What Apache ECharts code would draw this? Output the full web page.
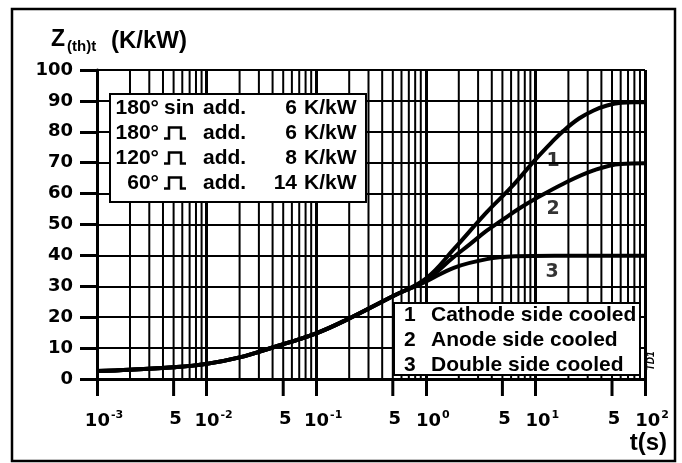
<!DOCTYPE html>
<html>
<head>
<meta charset="utf-8">
<script src="https://cdn.jsdelivr.net/npm/echarts@6/dist/echarts.min.js"></script>
<style>
  html, body { margin: 0; padding: 0; background: #fff; }
  #chart { width: 682px; height: 463px; }
</style>
</head>
<body>
<div id="chart"></div>
<script>
// transient thermal impedance Z(th)t in K/kW against time t in s
const commonT = [0.001, 0.002, 0.005, 0.01, 0.02, 0.04, 0.1, 0.2, 0.5];
const commonZ = [2.6, 3.0, 3.8, 4.9, 7.0, 10.2, 14.8, 19.6, 26.8];

const cathodeT = [1, 1.8, 3.6, 6, 10, 14, 18, 25, 34, 45, 60, 80, 100];
const cathodeZ = [32.5, 42, 54, 62, 71, 76.5, 80.3, 84.3, 86.9, 88.5, 89.4, 89.6, 89.6];

const anodeT = [1, 1.8, 2.5, 3.6, 5, 7, 10, 18, 34, 60, 100];
const anodeZ = [32, 39.5, 43.5, 48, 51.5, 55, 58.3, 63.2, 67.5, 69.6, 69.8];

const doubleT = [1, 1.8, 3.6, 6.5, 15, 100];
const doubleZ = [31.5, 36, 38.8, 39.7, 39.9, 39.9];

// curve numbers placed next to the lines
const curveLabelT = [14.5, 14.5, 14.2];
const curveLabelZ = [70.6, 54.9, 34.7];
const curveLabels = ['1', '2', '3'];

// log grid: sub-divisions of each decade and the labelled "5" ticks
const decades = [0.001, 0.01, 0.1, 1, 10];
const minorSteps = [2, 3, 4, 5, 6, 7, 8, 9];
const fiveTicks = [0.005, 0.05, 0.5, 5, 50];

// additions table and legend
const boxAngles = ['180°', '180°', '120°', '60°'];
const boxShapes = ['sin', 'pulse', 'pulse', 'pulse'];
const boxAdds = ['6', '6', '8', '14'];
const coolingNames = ['Cathode side cooled', 'Anode side cooled', 'Double side cooled'];

const numFont = 'DejaVu Sans';
const textFont = 'Liberation Sans';

function pairs(ts, zs) {
  return ts.map((t, i) => [t, zs[i]]);
}

const minorLines = [];
decades.forEach(d => {
  minorSteps.forEach(m => minorLines.push([d * m, 0]));
});

const graphic = [];
// outer frame
graphic.push({
  type: 'rect', shape: { x: 12, y: 9, width: 663, height: 452 },
  style: { fill: 'none', stroke: '#000', lineWidth: 2.5 }, z: 100
});
// axis titles
graphic.push({ type: 'text', x: 51, y: 40, style: { text: 'Z', font: 'bold 23px ' + textFont, fill: '#000', verticalAlign: 'middle' } });
graphic.push({ type: 'text', x: 67, y: 47, style: { text: '(th)t', font: 'bold 15px ' + textFont, fill: '#000', verticalAlign: 'middle' } });
graphic.push({ type: 'text', x: 111, y: 41, style: { text: '(K/kW)', font: 'bold 24px ' + textFont, fill: '#000', verticalAlign: 'middle' } });
graphic.push({ type: 'text', x: 667, y: 443, style: { text: 't(s)', font: 'bold 24px ' + textFont, fill: '#000', align: 'right', verticalAlign: 'middle' } });
graphic.push({
  type: 'text', x: 651, y: 361, rotation: Math.PI / 2,
  style: { text: 'TD1', font: 'italic bold 10px ' + textFont, fill: '#000', align: 'center', verticalAlign: 'middle' }
});

// additions table
graphic.push({
  type: 'rect', shape: { x: 110, y: 94, width: 256, height: 108 },
  style: { fill: '#fff', stroke: '#000', lineWidth: 2 }, z: 50
});
boxAngles.forEach((a, i) => {
  const y = 108.5 + i * 25;
  const font = 'bold 21px ' + textFont;
  graphic.push({ type: 'text', x: 159, y: y, z: 51, style: { text: a, font: font, fill: '#000', align: 'right', verticalAlign: 'middle' } });
  if (boxShapes[i] === 'pulse') {
    // square pulse symbol
    graphic.push({
      type: 'polyline', z: 51,
      shape: { points: [[164, y + 5], [169, y + 5], [169, y - 6], [181, y - 6], [181, y + 5], [186, y + 5]] },
      style: { stroke: '#000', lineWidth: 2.5, fill: 'none' }
    });
  } else {
    graphic.push({ type: 'text', x: 164, y: y, z: 51, style: { text: boxShapes[i], font: font, fill: '#000', verticalAlign: 'middle' } });
  }
  graphic.push({ type: 'text', x: 203, y: y, z: 51, style: { text: 'add.', font: font, fill: '#000', verticalAlign: 'middle' } });
  graphic.push({ type: 'text', x: 297, y: y, z: 51, style: { text: boxAdds[i], font: font, fill: '#000', align: 'right', verticalAlign: 'middle' } });
  graphic.push({ type: 'text', x: 304, y: y, z: 51, style: { text: 'K/kW', font: font, fill: '#000', verticalAlign: 'middle' } });
});

// cooling legend
graphic.push({
  type: 'rect', shape: { x: 394, y: 303, width: 246, height: 72 },
  style: { fill: '#fff', stroke: '#000', lineWidth: 2 }, z: 50
});
coolingNames.forEach((n, i) => {
  const y = 315.5 + i * 25;
  const font = 'bold 21px ' + textFont;
  graphic.push({ type: 'text', x: 404, y: y, z: 51, style: { text: curveLabels[i], font: font, fill: '#000', verticalAlign: 'middle' } });
  graphic.push({ type: 'text', x: 431, y: y, z: 51, style: { text: n, font: font, fill: '#000', verticalAlign: 'middle' } });
});

const curveStyle = { color: '#000', width: 4 };

const option = {
  backgroundColor: '#fff',
  animation: false,
  grid: { left: 97, right: 37, top: 70, bottom: 84 },
  xAxis: {
    type: 'log',
    logBase: 10,
    min: 0.001,
    max: 100,
    axisLine: { lineStyle: { color: '#000', width: 3 } },
    axisTick: { show: true, length: 17, lineStyle: { color: '#000', width: 3 } },
    splitLine: { show: true, lineStyle: { color: '#000', width: 3 } },
    axisLabel: {
      margin: 31,
      formatter: v => '{b|10}{s|' + Math.round(Math.log10(v)) + '}',
      rich: {
        b: { fontFamily: numFont, fontWeight: 'bold', fontSize: 18, color: '#000', padding: [0, 0, 0, 14] },
        s: { fontFamily: numFont, fontWeight: 'bold', fontSize: 11, color: '#000', padding: [0, 0, 12, 1] }
      }
    }
  },
  yAxis: {
    type: 'value',
    min: 0,
    max: 100,
    interval: 10,
    axisLine: { show: true, lineStyle: { color: '#000', width: 3 } },
    axisTick: { show: true, length: 17, lineStyle: { color: '#000', width: 3 } },
    splitLine: { show: true, lineStyle: { color: '#000', width: 2 } },
    axisLabel: { margin: 24, color: '#000', fontFamily: numFont, fontWeight: 'bold', fontSize: 18 }
  },
  graphic: graphic,
  series: [
    {
      // decade sub-division grid lines
      type: 'custom',
      silent: true,
      z: 1,
      data: minorLines,
      renderItem: (params, api) => {
        const top = api.coord([api.value(0), 100]);
        const bot = api.coord([api.value(0), 0]);
        return {
          type: 'line',
          shape: { x1: top[0], y1: top[1], x2: bot[0], y2: bot[1] },
          style: { stroke: '#000', lineWidth: 2 }
        };
      }
    },
    {
      // "5" ticks and labels below the axis
      type: 'custom',
      silent: true,
      z: 3,
      data: fiveTicks.map(t => [t, 0]),
      renderItem: (params, api) => {
        const p = api.coord([api.value(0), 0]);
        return {
          type: 'group',
          children: [
            { type: 'line', shape: { x1: p[0], y1: p[1], x2: p[0], y2: p[1] + 17 }, style: { stroke: '#000', lineWidth: 3 } },
            {
              type: 'text', x: p[0] + 2, y: p[1] + 40,
              style: { text: '5', font: 'bold 18px ' + numFont, fill: '#000', align: 'center', verticalAlign: 'middle' }
            }
          ]
        };
      }
    },
    {
      name: 'Cathode side cooled',
      type: 'line', smooth: 0.4, symbol: 'none', z: 5,
      lineStyle: curveStyle,
      data: pairs(commonT.concat(cathodeT), commonZ.concat(cathodeZ))
    },
    {
      name: 'Anode side cooled',
      type: 'line', smooth: 0.4, symbol: 'none', z: 5,
      lineStyle: curveStyle,
      data: pairs(commonT.concat(anodeT), commonZ.concat(anodeZ))
    },
    {
      name: 'Double side cooled',
      type: 'line', smooth: 0.4, symbol: 'none', z: 5,
      lineStyle: curveStyle,
      data: pairs(commonT.concat(doubleT), commonZ.concat(doubleZ))
    },
    {
      type: 'scatter',
      symbolSize: 0,
      z: 6,
      silent: true,
      data: curveLabelT.map((t, i) => ({ value: [t, curveLabelZ[i]], name: curveLabels[i] })),
      label: {
        show: true,
        position: 'inside',
        formatter: p => p.name,
        color: '#000',
        fontFamily: numFont,
        fontWeight: 'bold',
        fontSize: 19
      }
    }
  ]
};

const chart = echarts.init(document.getElementById('chart'));
chart.setOption(option);
</script>
</body>
</html>
